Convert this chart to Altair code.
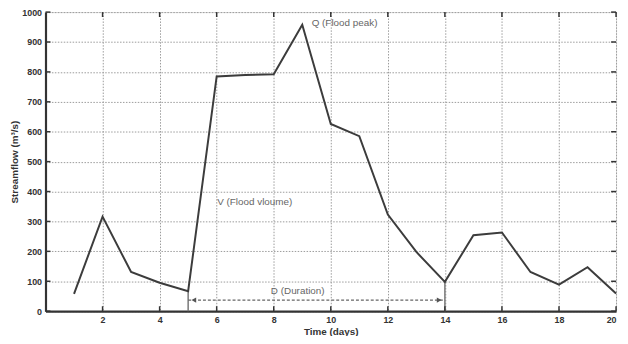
import altair as alt
import pandas as pd

days = list(range(1, 21))
flow = [58, 316, 131, 95, 67, 785, 790, 792, 958, 626, 585, 323, 198, 98, 254, 263, 131, 89, 147, 59]

x_ticks = [2, 4, 6, 8, 10, 12, 14, 16, 18, 20]
y_ticks = [0, 100, 200, 300, 400, 500, 600, 700, 800, 900, 1000]

dur_start, dur_end = 5, 14
dur_level = 37
labels_txt = ["Q (Flood peak)", "V (Flood vloume)", "D (Duration)"]
labels_x = [9.33, 6.02, 7.9]
labels_y = [963, 364, 66]

W, H = 578, 303

df = pd.DataFrame({"day": days, "flow": flow})
xs = alt.Scale(domain=[0, 20], nice=False, zero=False)
ys = alt.Scale(domain=[0, 1000], nice=False)

label_font = "Liberation Sans"

x_axis = alt.Axis(values=x_ticks, ticks=False, labelPadding=4, grid=True,
                  format="d", labelOverlap=False,
                  gridDash=[1.5, 1.5], gridColor="#9a9a9a",
                  domainColor="#333", domainWidth=2.2,
                  labelFont=label_font, labelFontSize=9, labelFontWeight="bold",
                  labelColor="#333", titleFont=label_font, titleFontSize=10,
                  titleFontWeight="bold", titleColor="#333", titlePadding=3)
y_axis = alt.Axis(values=y_ticks, ticks=False, labelPadding=4, grid=True,
                  format="d", labelOverlap=False,
                  gridDash=[1.5, 1.5], gridColor="#9a9a9a",
                  domainColor="#333", domainWidth=2.2,
                  labelFont=label_font, labelFontSize=9, labelFontWeight="bold",
                  labelColor="#333", titleFont=label_font, titleFontSize=10,
                  titleFontWeight="bold", titleColor="#333",
                  titleX=-31, titleY=H / 2, titleBaseline="middle",
                  titleAlign="center", titleAngle=270)

X_TITLE = "Time (days)"
Y_TITLE = "Streamflow (m³/s)"


def X(f):
    return alt.X(f, scale=xs, axis=x_axis, title=X_TITLE)


def Y(f):
    return alt.Y(f, scale=ys, axis=y_axis, title=Y_TITLE)


line = alt.Chart(df).mark_line(color="#3c3c3c", strokeWidth=2).encode(x=X("day:Q"), y=Y("flow:Q"))

# vertical markers at start / end of duration
vdf = pd.DataFrame({"day": [dur_start, dur_end],
                    "flow": [flow[days.index(dur_start)], flow[days.index(dur_end)]],
                    "zero": [0, 0]})
vrules = alt.Chart(vdf).mark_rule(color="#777", strokeWidth=1.5).encode(
    x=X("day:Q"), y=Y("zero:Q"), y2="flow:Q")

# duration double arrow
ddf = pd.DataFrame({"x1": [dur_start], "x2": [dur_end], "lvl": [dur_level]})
drule = alt.Chart(ddf).mark_rule(color="#666", strokeWidth=1.3, strokeDash=[3, 2]).encode(
    x=X("x1:Q"), x2="x2:Q", y=Y("lvl:Q"))
adf = pd.DataFrame({"x": [dur_start + 0.2, dur_end - 0.2], "lvl": [dur_level, dur_level],
                    "shape": ["triangle-left", "triangle-right"]})
arrows = alt.Chart(adf).mark_point(filled=True, color="#555", size=30, opacity=1).encode(
    x=X("x:Q"), y=Y("lvl:Q"),
    shape=alt.Shape("shape:N", scale=None, legend=None))

tdf = pd.DataFrame({"t": labels_txt, "x": labels_x, "y": labels_y})
texts = alt.Chart(tdf).mark_text(align="left", baseline="middle", font=label_font,
                                 fontSize=10, color="#666").encode(
    x=X("x:Q"), y=Y("y:Q"), text="t:N")

# inward ticks (MATLAB style)
xtdf = pd.DataFrame({"v": x_ticks})
ytdf = pd.DataFrame({"v": y_ticks})
tb = alt.Chart(xtdf).mark_rule(color="#333", strokeWidth=1.5).encode(
    x=X("v:Q"), y=alt.value(H), y2=alt.value(H - 5))
tt = alt.Chart(xtdf).mark_rule(color="#333", strokeWidth=1.5).encode(
    x=X("v:Q"), y=alt.value(0), y2=alt.value(5))
tl = alt.Chart(ytdf).mark_rule(color="#333", strokeWidth=1.5).encode(
    y=Y("v:Q"), x=alt.value(0), x2=alt.value(5))
tr = alt.Chart(ytdf).mark_rule(color="#333", strokeWidth=1.5).encode(
    y=Y("v:Q"), x=alt.value(W), x2=alt.value(W - 5))

chart = alt.layer(vrules, drule, arrows, line, texts, tb, tt, tl, tr).properties(
    width=W, height=H,
    autosize=alt.AutoSizeParams(type="none"),
    padding={"left": 38, "top": 2, "right": 4, "bottom": 23},
).configure_view(stroke="#444", strokeWidth=1.5).configure(background="white")

chart.save("out.html", embed_options={"renderer": "svg", "actions": False})
